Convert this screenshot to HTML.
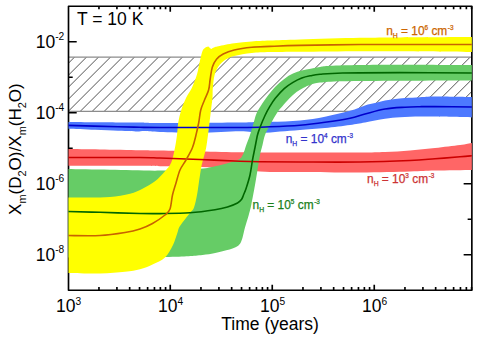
<!DOCTYPE html><html><head><meta charset="utf-8"><style>html,body{margin:0;padding:0;background:#fff}svg{display:block}text{font-family:"Liberation Sans",sans-serif}</style></head><body>
<svg width="480" height="340" viewBox="0 0 480 340">
<rect width="480" height="340" fill="#fff"/>
<defs><clipPath id="cp"><rect x="68.50" y="6.25" width="403.35" height="283.95"/></clipPath>
<clipPath id="hc"><rect x="68.50" y="57.15" width="403.35" height="54.15"/></clipPath></defs>
<g clip-path="url(#hc)" stroke="#4a4a4a" stroke-width="0.95">
<path d="M-41.62 113.30 L16.53 55.15M-29.63 113.30 L28.52 55.15M-17.64 113.30 L40.51 55.15M-5.65 113.30 L52.50 55.15M6.34 113.30 L64.49 55.15M18.33 113.30 L76.48 55.15M30.32 113.30 L88.47 55.15M42.31 113.30 L100.46 55.15M54.30 113.30 L112.45 55.15M66.29 113.30 L124.44 55.15M78.28 113.30 L136.43 55.15M90.27 113.30 L148.42 55.15M102.26 113.30 L160.41 55.15M114.25 113.30 L172.40 55.15M126.24 113.30 L184.39 55.15M138.23 113.30 L196.38 55.15M150.22 113.30 L208.37 55.15M162.21 113.30 L220.36 55.15M174.20 113.30 L232.35 55.15M186.19 113.30 L244.34 55.15M198.18 113.30 L256.33 55.15M210.17 113.30 L268.32 55.15M222.16 113.30 L280.31 55.15M234.15 113.30 L292.30 55.15M246.14 113.30 L304.29 55.15M258.13 113.30 L316.28 55.15M270.12 113.30 L328.27 55.15M282.11 113.30 L340.26 55.15M294.10 113.30 L352.25 55.15M306.09 113.30 L364.24 55.15M318.08 113.30 L376.23 55.15M330.07 113.30 L388.22 55.15M342.06 113.30 L400.21 55.15M354.05 113.30 L412.20 55.15M366.04 113.30 L424.19 55.15M378.03 113.30 L436.18 55.15M390.02 113.30 L448.17 55.15M402.01 113.30 L460.16 55.15M414.00 113.30 L472.15 55.15M425.99 113.30 L484.14 55.15M437.98 113.30 L496.13 55.15M449.97 113.30 L508.12 55.15M461.96 113.30 L520.11 55.15M473.95 113.30 L532.10 55.15" fill="none"/>
</g>
<path d="M68.50 57.15 H471.85 M68.50 111.30 H471.85" stroke="#8c8c8c" stroke-width="1.35" fill="none"/>
<rect x="68.50" y="6.25" width="403.35" height="283.95" fill="none" stroke="#000" stroke-width="1.65" stroke-linejoin="round"/>
<path d="M98.96 290.20 V287.10 M98.96 6.25 V9.35M116.92 290.20 V287.10 M116.92 6.25 V9.35M129.66 290.20 V287.10 M129.66 6.25 V9.35M139.54 290.20 V287.10 M139.54 6.25 V9.35M147.62 290.20 V287.10 M147.62 6.25 V9.35M154.45 290.20 V287.10 M154.45 6.25 V9.35M160.37 290.20 V287.10 M160.37 6.25 V9.35M165.58 290.20 V287.10 M165.58 6.25 V9.35M170.25 290.20 V284.80 M170.25 6.25 V11.65M200.96 290.20 V287.10 M200.96 6.25 V9.35M218.92 290.20 V287.10 M218.92 6.25 V9.35M231.66 290.20 V287.10 M231.66 6.25 V9.35M241.54 290.20 V287.10 M241.54 6.25 V9.35M249.62 290.20 V287.10 M249.62 6.25 V9.35M256.45 290.20 V287.10 M256.45 6.25 V9.35M262.37 290.20 V287.10 M262.37 6.25 V9.35M267.58 290.20 V287.10 M267.58 6.25 V9.35M272.25 290.20 V284.80 M272.25 6.25 V11.65M302.96 290.20 V287.10 M302.96 6.25 V9.35M320.92 290.20 V287.10 M320.92 6.25 V9.35M333.66 290.20 V287.10 M333.66 6.25 V9.35M343.54 290.20 V287.10 M343.54 6.25 V9.35M351.62 290.20 V287.10 M351.62 6.25 V9.35M358.45 290.20 V287.10 M358.45 6.25 V9.35M364.37 290.20 V287.10 M364.37 6.25 V9.35M369.58 290.20 V287.10 M369.58 6.25 V9.35M374.25 290.20 V284.80 M374.25 6.25 V11.65M404.96 290.20 V287.10 M404.96 6.25 V9.35M422.92 290.20 V287.10 M422.92 6.25 V9.35M435.66 290.20 V287.10 M435.66 6.25 V9.35M445.54 290.20 V287.10 M445.54 6.25 V9.35M453.62 290.20 V287.10 M453.62 6.25 V9.35M460.45 290.20 V287.10 M460.45 6.25 V9.35M466.37 290.20 V287.10 M466.37 6.25 V9.35M471.58 290.20 V287.10 M471.58 6.25 V9.35M68.50 254.75 H76.70 M471.85 254.75 H463.65M68.50 219.25 H72.70 M471.85 219.25 H467.65M68.50 183.75 H76.70 M471.85 183.75 H463.65M68.50 148.25 H72.70 M471.85 148.25 H467.65M68.50 112.75 H76.70 M471.85 112.75 H463.65M68.50 77.25 H72.70 M471.85 77.25 H467.65M68.50 41.75 H76.70 M471.85 41.75 H463.65" stroke="#000" stroke-width="1.65" fill="none"/>
<g clip-path="url(#cp)">
<path d="M68.00 149.10 C73.33 149.17 88.00 149.32 100.00 149.50 C112.00 149.68 130.00 150.03 140.00 150.20 C150.00 150.37 150.00 150.28 160.00 150.50 C170.00 150.72 186.67 151.20 200.00 151.50 C213.33 151.80 230.00 152.13 240.00 152.30 C250.00 152.47 250.00 152.47 260.00 152.50 C270.00 152.53 283.33 152.50 300.00 152.50 C316.67 152.50 345.83 152.58 360.00 152.50 C374.17 152.42 376.67 152.33 385.00 152.00 C393.33 151.67 401.67 151.17 410.00 150.50 C418.33 149.83 426.67 148.92 435.00 148.00 C443.33 147.08 453.83 145.83 460.00 145.00 C466.17 144.17 470.00 143.33 472.00 143.00 L472.00 170.00 C465.83 170.10 445.33 170.33 435.00 170.60 C424.67 170.87 422.50 171.27 410.00 171.60 C397.50 171.93 378.33 172.53 360.00 172.60 C341.67 172.67 316.67 172.20 300.00 172.00 C283.33 171.80 274.17 172.15 260.00 171.40 C245.83 170.65 231.67 168.37 215.00 167.50 C198.33 166.63 172.50 166.48 160.00 166.20 C147.50 165.92 155.33 165.87 140.00 165.80 C124.67 165.73 80.00 165.80 68.00 165.80 Z" fill="#ff6666"/>
<path d="M68.00 122.10 C76.33 122.17 106.00 122.43 118.00 122.50 C130.00 122.57 133.00 122.42 140.00 122.50 C147.00 122.58 143.33 123.00 160.00 123.00 C176.67 123.00 221.67 122.70 240.00 122.50 C258.33 122.30 260.00 122.15 270.00 121.80 C280.00 121.45 290.83 121.25 300.00 120.40 C309.17 119.55 316.67 118.30 325.00 116.70 C333.33 115.10 343.33 112.68 350.00 110.80 C356.67 108.92 360.83 106.70 365.00 105.40 C369.17 104.10 371.67 103.80 375.00 103.00 C378.33 102.20 381.67 101.27 385.00 100.60 C388.33 99.93 391.67 99.43 395.00 99.00 C398.33 98.57 400.83 98.30 405.00 98.00 C409.17 97.70 415.00 97.45 420.00 97.20 C425.00 96.95 426.33 96.53 435.00 96.50 C443.67 96.47 465.83 96.92 472.00 97.00 L472.00 117.50 C465.83 117.35 443.67 116.77 435.00 116.60 C426.33 116.43 425.83 116.40 420.00 116.50 C414.17 116.60 405.83 116.82 400.00 117.20 C394.17 117.58 390.83 117.92 385.00 118.80 C379.17 119.68 370.83 121.47 365.00 122.50 C359.17 123.53 356.67 124.08 350.00 125.00 C343.33 125.92 333.33 127.17 325.00 128.00 C316.67 128.83 307.50 129.40 300.00 130.00 C292.50 130.60 286.67 131.10 280.00 131.60 C273.33 132.10 266.67 133.06 260.00 133.00 C253.33 132.94 250.00 131.28 240.00 131.25 C230.00 131.22 213.33 132.68 200.00 132.80 C186.67 132.93 169.17 132.30 160.00 132.00 C150.83 131.70 148.75 131.08 145.00 131.00 C141.25 130.92 140.00 131.50 137.50 131.50 C135.00 131.50 133.25 131.12 130.00 131.00 C126.75 130.88 123.83 131.00 118.00 130.80 C112.17 130.60 103.33 130.14 95.00 129.80 C86.67 129.46 72.50 128.93 68.00 128.75 Z" fill="#4d79ff"/>
<path d="M68.00 169.10 C75.00 169.22 94.67 169.55 110.00 169.80 C125.33 170.05 145.00 170.78 160.00 170.60 C175.00 170.42 190.83 169.47 200.00 168.75 C209.17 168.03 210.00 167.29 215.00 166.25 C220.00 165.21 225.83 163.75 230.00 162.50 C234.17 161.25 237.71 160.42 240.00 158.75 C242.29 157.08 242.71 154.79 243.75 152.50 C244.79 150.21 245.21 147.92 246.25 145.00 C247.29 142.08 248.75 138.75 250.00 135.00 C251.25 131.25 252.77 125.83 253.75 122.50 C254.73 119.17 254.96 117.42 255.90 115.00 C256.84 112.58 257.63 110.93 259.40 108.00 C261.17 105.07 263.85 100.93 266.50 97.40 C269.15 93.87 272.35 89.88 275.30 86.80 C278.25 83.72 281.25 81.10 284.20 78.90 C287.15 76.70 290.07 75.00 293.00 73.60 C295.93 72.20 298.85 71.30 301.80 70.50 C304.75 69.70 307.67 69.38 310.70 68.80 C313.73 68.22 316.78 67.50 320.00 67.00 C323.22 66.50 323.33 66.13 330.00 65.80 C336.67 65.47 348.33 65.18 360.00 65.00 C371.67 64.82 381.33 64.70 400.00 64.70 C418.67 64.70 460.00 64.95 472.00 65.00 L472.00 80.50 C460.00 80.54 421.58 80.62 400.00 80.75 C378.42 80.88 355.83 80.94 342.50 81.25 C329.17 81.56 325.30 82.02 320.00 82.60 C314.70 83.17 313.43 83.85 310.70 84.70 C307.97 85.55 305.97 86.47 303.60 87.70 C301.23 88.93 298.85 90.33 296.50 92.10 C294.15 93.87 291.85 95.95 289.50 98.30 C287.15 100.65 284.43 103.83 282.40 106.20 C280.37 108.57 279.37 109.37 277.30 112.50 C275.23 115.63 272.05 121.25 270.00 125.00 C267.95 128.75 266.25 131.67 265.00 135.00 C263.75 138.33 263.33 141.67 262.50 145.00 C261.67 148.33 260.83 150.83 260.00 155.00 C259.17 159.17 258.33 165.00 257.50 170.00 C256.67 175.00 256.04 179.17 255.00 185.00 C253.96 190.83 252.29 200.00 251.25 205.00 C250.21 210.00 249.79 211.25 248.75 215.00 C247.71 218.75 246.29 223.00 245.00 227.50 C243.71 232.00 242.67 238.67 241.00 242.00 C239.33 245.33 238.08 245.96 235.00 247.50 C231.92 249.04 227.92 250.00 222.50 251.25 C217.08 252.50 212.08 254.04 202.50 255.00 C192.92 255.96 187.42 256.58 165.00 257.00 C142.58 257.42 84.17 257.42 68.00 257.50 Z" fill="#66cc66"/>
<path d="M68.00 197.50 C71.67 197.50 83.00 197.58 90.00 197.50 C97.00 197.42 103.33 197.62 110.00 197.00 C116.67 196.38 124.58 195.12 130.00 193.75 C135.42 192.38 138.33 190.83 142.50 188.75 C146.67 186.67 151.25 184.17 155.00 181.25 C158.75 178.33 162.29 174.38 165.00 171.25 C167.71 168.12 169.58 166.46 171.25 162.50 C172.92 158.54 174.04 152.08 175.00 147.50 C175.96 142.92 176.46 139.17 177.00 135.00 C177.54 130.83 177.54 126.67 178.25 122.50 C178.96 118.33 179.92 114.17 181.25 110.00 C182.58 105.83 184.49 101.17 186.25 97.50 C188.01 93.83 190.01 91.88 191.80 88.00 C193.59 84.12 195.68 78.57 197.00 74.20 C198.32 69.83 198.80 65.63 199.70 61.80 C200.60 57.97 201.58 53.47 202.40 51.20 C203.22 48.93 203.65 48.97 204.60 48.20 C205.55 47.43 207.48 46.87 208.10 46.60 C208.72 46.33 207.80 46.20 208.30 46.60 C208.80 47.00 210.60 48.60 211.10 49.00 C211.60 49.40 210.85 49.23 211.30 49.00 C211.75 48.77 212.63 48.05 213.80 47.60 C214.97 47.15 214.90 47.02 218.30 46.30 C221.70 45.58 228.62 44.10 234.20 43.30 C239.78 42.50 245.83 41.95 251.80 41.50 C257.77 41.05 261.97 40.93 270.00 40.60 C278.03 40.27 285.00 39.97 300.00 39.50 C315.00 39.03 343.33 38.15 360.00 37.80 C376.67 37.45 381.33 37.53 400.00 37.40 C418.67 37.27 460.00 37.07 472.00 37.00 L472.00 52.00 C460.00 51.88 418.67 51.42 400.00 51.30 C381.33 51.17 376.67 51.17 360.00 51.25 C343.33 51.33 315.00 51.66 300.00 51.80 C285.00 51.94 278.03 51.90 270.00 52.10 C261.97 52.30 257.77 52.35 251.80 53.00 C245.83 53.65 238.62 54.87 234.20 56.00 C229.78 57.13 227.90 58.08 225.30 59.80 C222.70 61.52 220.38 63.77 218.60 66.30 C216.82 68.83 215.57 71.38 214.60 75.00 C213.63 78.62 213.15 84.25 212.80 88.00 C212.45 91.75 212.80 93.83 212.50 97.50 C212.20 101.17 211.50 105.83 211.00 110.00 C210.50 114.17 210.00 118.33 209.50 122.50 C209.00 126.67 208.58 130.67 208.00 135.00 C207.42 139.33 206.83 144.33 206.00 148.50 C205.17 152.67 203.79 156.83 203.00 160.00 C202.21 163.17 201.96 163.58 201.25 167.50 C200.54 171.42 199.46 178.92 198.75 183.50 C198.04 188.08 197.79 191.00 197.00 195.00 C196.21 199.00 195.17 204.50 194.00 207.50 C192.83 210.50 192.33 209.92 190.00 213.00 C187.67 216.08 182.08 222.75 180.00 226.00 C177.92 229.25 178.67 229.33 177.50 232.50 C176.33 235.67 175.08 240.83 173.00 245.00 C170.92 249.17 168.42 254.25 165.00 257.50 C161.58 260.75 156.67 262.55 152.50 264.50 C148.33 266.45 144.58 268.00 140.00 269.20 C135.42 270.40 131.67 270.98 125.00 271.70 C118.33 272.42 109.50 273.30 100.00 273.50 C90.50 273.70 73.33 273.00 68.00 272.90 Z" fill="#ffff00"/>
<path d="M68.00 157.50 C80.00 157.50 124.67 157.42 140.00 157.50 C155.33 157.58 150.00 157.67 160.00 158.00 C170.00 158.33 186.67 158.96 200.00 159.50 C213.33 160.04 230.00 160.88 240.00 161.25 C250.00 161.62 250.00 161.62 260.00 161.75 C270.00 161.88 283.33 161.96 300.00 162.00 C316.67 162.04 341.67 162.25 360.00 162.00 C378.33 161.75 397.50 161.04 410.00 160.50 C422.50 159.96 426.67 159.37 435.00 158.75 C443.33 158.13 453.83 157.30 460.00 156.80 C466.17 156.30 470.00 155.93 472.00 155.75" fill="none" stroke="#cc0000" stroke-width="1.6"/>
<path d="M68.00 125.40 C76.33 125.62 106.00 126.38 118.00 126.70 C130.00 127.02 133.00 127.17 140.00 127.30 C147.00 127.43 143.33 127.47 160.00 127.50 C176.67 127.53 221.67 127.62 240.00 127.50 C258.33 127.38 260.00 127.18 270.00 126.80 C280.00 126.42 290.83 125.95 300.00 125.20 C309.17 124.45 316.67 123.47 325.00 122.30 C333.33 121.13 343.33 119.58 350.00 118.20 C356.67 116.82 359.17 115.53 365.00 114.00 C370.83 112.47 378.33 110.13 385.00 109.00 C391.67 107.87 399.17 107.58 405.00 107.20 C410.83 106.82 415.00 106.80 420.00 106.70 C425.00 106.60 426.33 106.55 435.00 106.60 C443.67 106.65 465.83 106.93 472.00 107.00" fill="none" stroke="#0000cc" stroke-width="1.6"/>
<path d="M68.00 211.50 C73.33 211.63 88.00 211.97 100.00 212.30 C112.00 212.63 130.00 213.28 140.00 213.50 C150.00 213.72 151.67 213.72 160.00 213.60 C168.33 213.48 180.83 213.43 190.00 212.80 C199.17 212.17 208.75 210.77 215.00 209.80 C221.25 208.83 223.75 208.13 227.50 207.00 C231.25 205.87 235.17 204.25 237.50 203.00 C239.83 201.75 240.50 200.83 241.50 199.50 C242.50 198.17 242.71 196.92 243.50 195.00 C244.29 193.08 245.17 191.33 246.25 188.00 C247.33 184.67 248.96 179.67 250.00 175.00 C251.04 170.33 251.67 164.58 252.50 160.00 C253.33 155.42 254.17 151.67 255.00 147.50 C255.83 143.33 256.67 138.33 257.50 135.00 C258.33 131.67 258.75 130.75 260.00 127.50 C261.25 124.25 263.33 119.05 265.00 115.50 C266.67 111.95 268.28 109.07 270.00 106.20 C271.72 103.33 272.93 101.23 275.30 98.30 C277.67 95.37 281.25 91.25 284.20 88.60 C287.15 85.95 290.07 84.17 293.00 82.40 C295.93 80.63 298.85 79.12 301.80 78.00 C304.75 76.88 307.67 76.32 310.70 75.70 C313.73 75.08 314.70 74.75 320.00 74.30 C325.30 73.85 329.17 73.28 342.50 73.00 C355.83 72.72 378.42 72.60 400.00 72.60 C421.58 72.60 460.00 72.93 472.00 73.00" fill="none" stroke="#006600" stroke-width="1.6"/>
<path d="M68.00 235.50 C73.33 235.50 90.50 236.00 100.00 235.50 C109.50 235.00 118.33 233.58 125.00 232.50 C131.67 231.42 135.42 230.50 140.00 229.00 C144.58 227.50 148.33 225.83 152.50 223.50 C156.67 221.17 162.08 217.42 165.00 215.00 C167.92 212.58 168.75 212.33 170.00 209.00 C171.25 205.67 171.50 199.33 172.50 195.00 C173.50 190.67 174.75 187.17 176.00 183.00 C177.25 178.83 178.33 173.83 180.00 170.00 C181.67 166.17 183.92 163.75 186.00 160.00 C188.08 156.25 190.83 151.67 192.50 147.50 C194.17 143.33 194.96 139.17 196.00 135.00 C197.04 130.83 197.96 126.67 198.75 122.50 C199.54 118.33 199.79 113.75 200.75 110.00 C201.71 106.25 203.19 103.33 204.50 100.00 C205.81 96.67 207.65 93.50 208.60 90.00 C209.55 86.50 209.58 82.78 210.20 79.00 C210.82 75.22 211.25 70.60 212.30 67.30 C213.35 64.00 214.68 61.42 216.50 59.20 C218.32 56.98 220.25 55.53 223.20 54.00 C226.15 52.47 229.43 51.12 234.20 50.00 C238.97 48.88 245.83 47.90 251.80 47.30 C257.77 46.70 261.97 46.72 270.00 46.40 C278.03 46.08 285.00 45.72 300.00 45.40 C315.00 45.08 343.33 44.65 360.00 44.50 C376.67 44.35 381.33 44.50 400.00 44.50 C418.67 44.50 460.00 44.50 472.00 44.50" fill="none" stroke="#c86400" stroke-width="1.6"/>
</g>
<text x="68.65" y="312.40" font-size="17.5" text-anchor="middle" fill="#000">10<tspan font-size="10.2" dy="-7.5">3</tspan></text>
<text x="170.65" y="312.40" font-size="17.5" text-anchor="middle" fill="#000">10<tspan font-size="10.2" dy="-7.5">4</tspan></text>
<text x="272.65" y="312.40" font-size="17.5" text-anchor="middle" fill="#000">10<tspan font-size="10.2" dy="-7.5">5</tspan></text>
<text x="374.65" y="312.40" font-size="17.5" text-anchor="middle" fill="#000">10<tspan font-size="10.2" dy="-7.5">6</tspan></text>
<text x="64.20" y="47.55" font-size="17.5" text-anchor="end" fill="#000">10<tspan font-size="10.2" dy="-7.5">-2</tspan></text>
<text x="64.20" y="118.55" font-size="17.5" text-anchor="end" fill="#000">10<tspan font-size="10.2" dy="-7.5">-4</tspan></text>
<text x="64.20" y="189.55" font-size="17.5" text-anchor="end" fill="#000">10<tspan font-size="10.2" dy="-7.5">-6</tspan></text>
<text x="64.20" y="260.55" font-size="17.5" text-anchor="end" fill="#000">10<tspan font-size="10.2" dy="-7.5">-8</tspan></text>
<text x="270.1" y="330.2" font-size="17.5" text-anchor="middle">Time (years)</text>
<text x="77" y="25.2" font-size="17.5">T = 10 K</text>
<text transform="translate(21.4,149.1) rotate(-90)" font-size="17.05" text-anchor="middle">X<tspan font-size="10.9" dy="4.3">m</tspan><tspan dy="-4.3">(D</tspan><tspan font-size="10.9" dy="4.3">2</tspan><tspan dy="-4.3">O)/X</tspan><tspan font-size="10.9" dy="4.3">m</tspan><tspan dy="-4.3">(H</tspan><tspan font-size="10.9" dy="4.3">2</tspan><tspan dy="-4.3">O)</tspan></text>
<text x="386.20" y="34.50" font-size="11.9" fill="#cc6600" stroke="#cc6600" stroke-width="0.25">n<tspan font-size="6.8" dy="3.2">H</tspan><tspan dy="-3.2"> = 10</tspan><tspan font-size="6.4" dy="-5">6</tspan><tspan dy="5"> cm</tspan><tspan font-size="6.4" dy="-5" dx="0.6">-3</tspan></text>
<text x="285.70" y="142.50" font-size="11.9" fill="#3333cc" stroke="#3333cc" stroke-width="0.25">n<tspan font-size="6.8" dy="3.2">H</tspan><tspan dy="-3.2"> = 10</tspan><tspan font-size="6.4" dy="-5">4</tspan><tspan dy="5"> cm</tspan><tspan font-size="6.4" dy="-5" dx="0.6">-3</tspan></text>
<text x="367.00" y="182.50" font-size="11.9" fill="#cc3333" stroke="#cc3333" stroke-width="0.25">n<tspan font-size="6.8" dy="3.2">H</tspan><tspan dy="-3.2"> = 10</tspan><tspan font-size="6.4" dy="-5">3</tspan><tspan dy="5"> cm</tspan><tspan font-size="6.4" dy="-5" dx="0.6">-3</tspan></text>
<text x="252.50" y="209.20" font-size="11.9" fill="#1a801a" stroke="#1a801a" stroke-width="0.25">n<tspan font-size="6.8" dy="3.2">H</tspan><tspan dy="-3.2"> = 10</tspan><tspan font-size="6.4" dy="-5">5</tspan><tspan dy="5"> cm</tspan><tspan font-size="6.4" dy="-5" dx="0.6">-3</tspan></text>
</svg></body></html>
